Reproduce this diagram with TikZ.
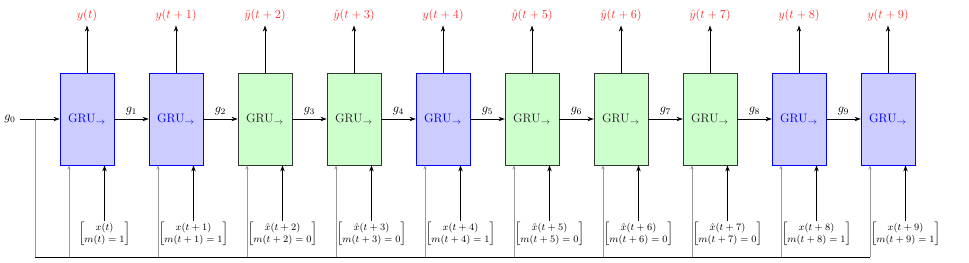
\documentclass[tikz,border=0pt]{standalone}
\usepackage{amsmath}
\usetikzlibrary{arrows.meta}
\begin{document}
\begin{tikzpicture}[
    x=0.0287cm, y=0.0287cm,
    grublue/.style={draw=blue, fill=blue!20, text=blue, minimum width=1.55cm, minimum height=2.64cm, inner sep=0pt},
    grugreen/.style={draw=black!80, fill=green!20, text=black!85, minimum width=1.55cm, minimum height=2.64cm, inner sep=0pt},
    outlbl/.style={text=red!80},
    inlbl/.style={font=\footnotesize, inner sep=1pt},
    io/.style={-{Stealth[length=5pt,width=3.5pt]}, line width=0.8pt},
    flow/.style={-{Stealth[length=5pt,width=3.5pt]}, line width=0.6pt},
    feed/.style={-{Stealth[length=3.5pt,width=2.5pt]}, gray!80, line width=0.8pt}
]
\useasboundingbox (0,0) rectangle (969,262);

% cellules GRU
\foreach \i/\kind/\dt/\mval/\acc in {0/grublue//1/, 1/grublue/+1/1/, 2/grugreen/+2/0/\hat, 3/grugreen/+3/0/\hat, 4/grublue/+4/1/, 5/grugreen/+5/0/\hat, 6/grugreen/+6/0/\hat, 7/grugreen/+7/0/\hat, 8/grublue/+8/1/, 9/grublue/+9/1/} {
    \node[\kind] (box\i) at (87+89*\i, 143) {$\mathrm{GRU}_{\rightarrow}$};
    \node[outlbl] (out\i) at (87+89*\i, 247) {$\acc{y}(t\dt)$};
    \node[inlbl] (in\i) at (104.5+89*\i, 28) {$\begin{bmatrix} \acc{x}(t\dt)\\ m(t\dt)=\mval \end{bmatrix}$};
    \coordinate (bot\i) at (69+89*\i, 5);
    \draw[io] (box\i.north) -- (out\i.south);
    \draw[io] (in\i.north) -- (in\i.north |- box\i.south);
    \draw[feed] (bot\i) -- (bot\i |- box\i.south);
}

% etats caches
\node (g0) at (10, 143) {$g_0$};
\draw[flow] (g0.east) -- (box0.west);
\foreach \i/\j in {0/1, 1/2, 2/3, 3/4, 4/5, 5/6, 6/7, 7/8, 8/9} {
    \draw[flow] (box\i.east) -- node[above] {$g_{\j}$} (box\j.west);
}

% retour de g0
\coordinate (split) at (35, 143);
\coordinate (corner) at (35, 5);
\draw[gray!80, line width=0.8pt] (split) -- (corner);
\draw[line width=0.7pt] (corner) -- (bot9);
\end{tikzpicture}
\end{document}
